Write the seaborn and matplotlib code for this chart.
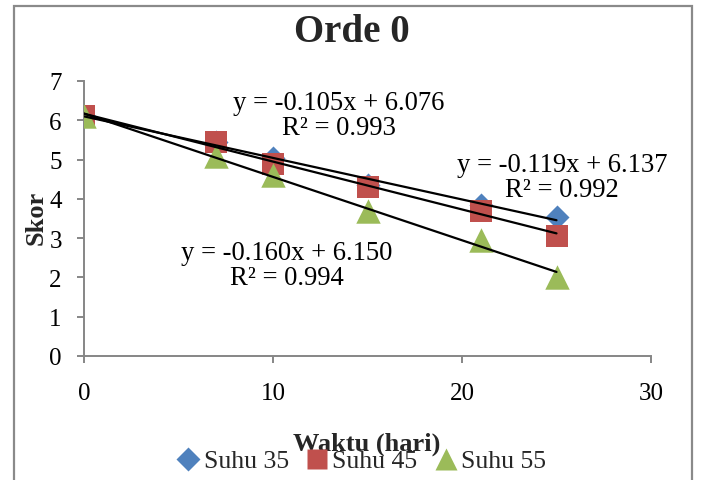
import numpy as np
import pandas as pd
import matplotlib
matplotlib.use("Agg")
import matplotlib.pyplot as plt
from matplotlib.lines import Line2D
from matplotlib.patches import Rectangle
import seaborn as sns

# ---- data ----
days = [0, 7, 10, 15, 21, 25]
suhu35 = [6.1, 5.45, 5.05, 4.35, 3.85, 3.55]
suhu45 = [6.1, 5.45, 4.9, 4.3, 3.7, 3.05]
suhu55 = [6.1, 5.1, 4.6, 3.7, 2.95, 2.0]
series_names = ["Suhu 35", "Suhu 45", "Suhu 55"]
equations = ["y = -0.105x + 6.076\nR² = 0.993",
             "y = -0.119x + 6.137\nR² = 0.992",
             "y = -0.160x + 6.150\nR² = 0.994"]
x_ticks = [0, 10, 20, 30]
y_ticks = [0, 1, 2, 3, 4, 5, 6, 7]

df = pd.DataFrame({
    "Waktu": days * 3,
    "Skor": suhu35 + suhu45 + suhu55,
    "Seri": [s for s in series_names for _ in days],
})

sns.set_theme(style="white")
plt.rcParams["font.family"] = ["Liberation Serif", "DejaVu Serif"]

colors = {"Suhu 35": "#4F81BD", "Suhu 45": "#C0504D", "Suhu 55": "#9BBB59"}
markers = {"Suhu 35": "D", "Suhu 45": "s", "Suhu 55": "^"}
sizes = {"Suhu 35": 150, "Suhu 45": 270, "Suhu 55": 310}

fig = plt.figure(figsize=(7.02, 4.81), dpi=100)
ax = fig.add_axes([84 / 702, 1 - 357 / 481, (651 - 84) / 702, (357 - 82) / 481])

for name in series_names:
    sub = df[df["Seri"] == name]
    sns.scatterplot(data=sub, x="Waktu", y="Skor", color=colors[name],
                    marker=markers[name], s=sizes[name], linewidth=0,
                    ax=ax, legend=False, zorder=3)
for name in series_names:
    sub = df[df["Seri"] == name]
    sns.regplot(data=sub, x="Waktu", y="Skor", scatter=False, ci=None,
                color="black", line_kws={"lw": 1.6, "zorder": 4}, ax=ax)

ax.set_xlim(0, 30)
ax.set_ylim(0, 7)
ax.set_xticks(x_ticks)
ax.set_yticks(y_ticks)
ax.set_xlabel("")
ax.set_ylabel("")
for s in ["top", "right"]:
    ax.spines[s].set_visible(False)
for s in ["left", "bottom"]:
    ax.spines[s].set_color("#868686")
    ax.spines[s].set_linewidth(1.4)
ax.tick_params(axis="both", which="major", direction="out", length=5,
               width=1.4, color="#868686", labelsize=18, labelcolor="black")
ax.tick_params(axis="y", pad=11, left=True)
ax.tick_params(axis="x", pad=14, bottom=True)
ax.patch.set_alpha(0)

# equation annotations
eq_pos = [(13.5, 6.13), (25.3, 4.55), (10.75, 2.32)]
for txt, (ex, ey) in zip(equations, eq_pos):
    ax.text(ex, ey, txt, ha="center", va="center", fontsize=19.2,
            linespacing=1.0, color="black", zorder=5)

fig.text(352 / 702, 1 - 32 / 481, "Orde 0", ha="center", va="center",
         fontsize=28, fontweight="bold")
fig.text(36 / 702, 1 - 218 / 481, "Skor", ha="center", va="center",
         rotation=90, fontsize=19, fontweight="bold")
fig.text(367 / 702, 1 - 444 / 481, "Waktu (hari)", ha="center", va="center",
         fontsize=19, fontweight="bold")

handles = [Line2D([0], [0], marker=markers[n], color="none",
                  markerfacecolor=colors[n], markeredgecolor="none",
                  markersize={"Suhu 35": 12, "Suhu 45": 15, "Suhu 55": 16}[n],
                  label=n) for n in series_names]
leg = fig.legend(handles=handles, loc="center",
                 bbox_to_anchor=(362 / 702, 1 - 462 / 481), ncol=3,
                 frameon=False, fontsize=18.5, handlelength=0.8,
                 handletextpad=0.2, columnspacing=0.7, borderpad=0)

fig.patches.append(Rectangle((14 / 702, -0.1), (692 - 14) / 702, 1 - 7 / 481 + 0.1,
                             transform=fig.transFigure, fill=False,
                             edgecolor="#8a8a8a", linewidth=1.6))

fig.savefig("out.png", dpi=100)
